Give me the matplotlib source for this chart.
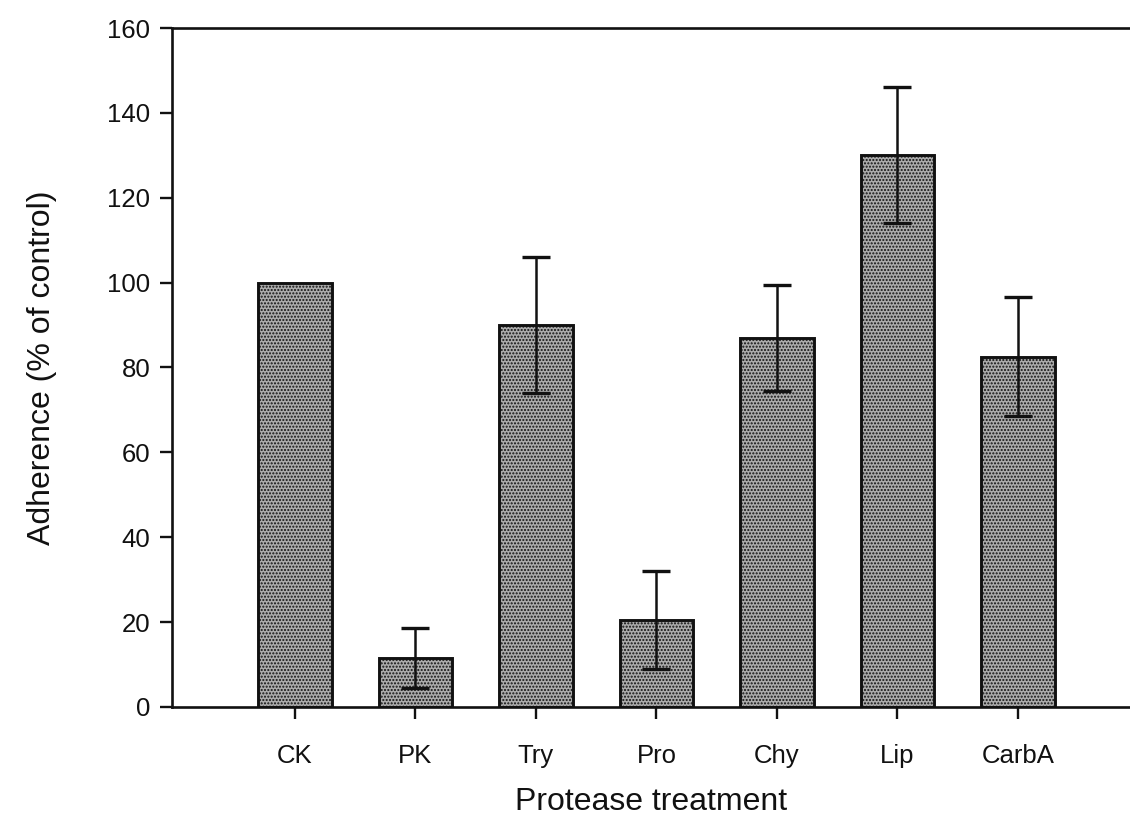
import numpy as np
import matplotlib
matplotlib.use('Agg')
import matplotlib.pyplot as plt

plt.rcParams['font.family'] = ['Liberation Sans', 'DejaVu Sans']
plt.rcParams['hatch.color'] = '#4a4a4a'
plt.rcParams['hatch.linewidth'] = 1.0

# data
treatments = ['CK', 'PK', 'Try', 'Pro', 'Chy', 'Lip', 'CarbA']
adherence  = [100, 11.5, 90, 20.5, 87, 130, 82.5]
errors     = [0, 7, 16, 11.5, 12.5, 16, 14]

fig = plt.figure(figsize=(11.3, 8.19), dpi=100)
ax = fig.add_axes([0.1522, 0.1368, 0.8478, 0.829])

x = np.arange(len(treatments))
ax.bar(x, adherence, width=0.61, color='#ababab', edgecolor='#111111',
       linewidth=2.1, hatch='.....', zorder=2)

# error bars, CK has none
err_x = [xi for xi, e in zip(x, errors) if e > 0]
err_y = [a for a, e in zip(adherence, errors) if e > 0]
err_e = [e for e in errors if e > 0]
ax.errorbar(err_x, err_y, yerr=err_e, fmt='none', ecolor='#111111',
            elinewidth=1.8, capsize=10, capthick=2.4, zorder=3)

ax.set_xlim(-1.02, 6.93)
ax.set_ylim(0, 160)
ax.set_yticks(np.arange(0, 161, 20))
ax.set_xticks(x)
ax.set_xticklabels(treatments)

for s in ['left', 'bottom', 'top']:
    ax.spines[s].set_linewidth(1.9)
    ax.spines[s].set_color('#111111')
ax.spines['right'].set_visible(False)

ax.tick_params(axis='both', colors='#111111')
ax.tick_params(axis='y', direction='out', length=8.5, width=1.7, pad=7,
               labelsize=18.5)
ax.tick_params(axis='x', direction='out', length=8.5, width=1.7, pad=18,
               labelsize=18.5)

ax.set_ylabel('Adherence (% of control)', fontsize=23, labelpad=36,
              color='#111111')
ax.set_xlabel('Protease treatment', fontsize=23, labelpad=14,
              color='#111111')

fig.savefig('out.png', dpi=100)
